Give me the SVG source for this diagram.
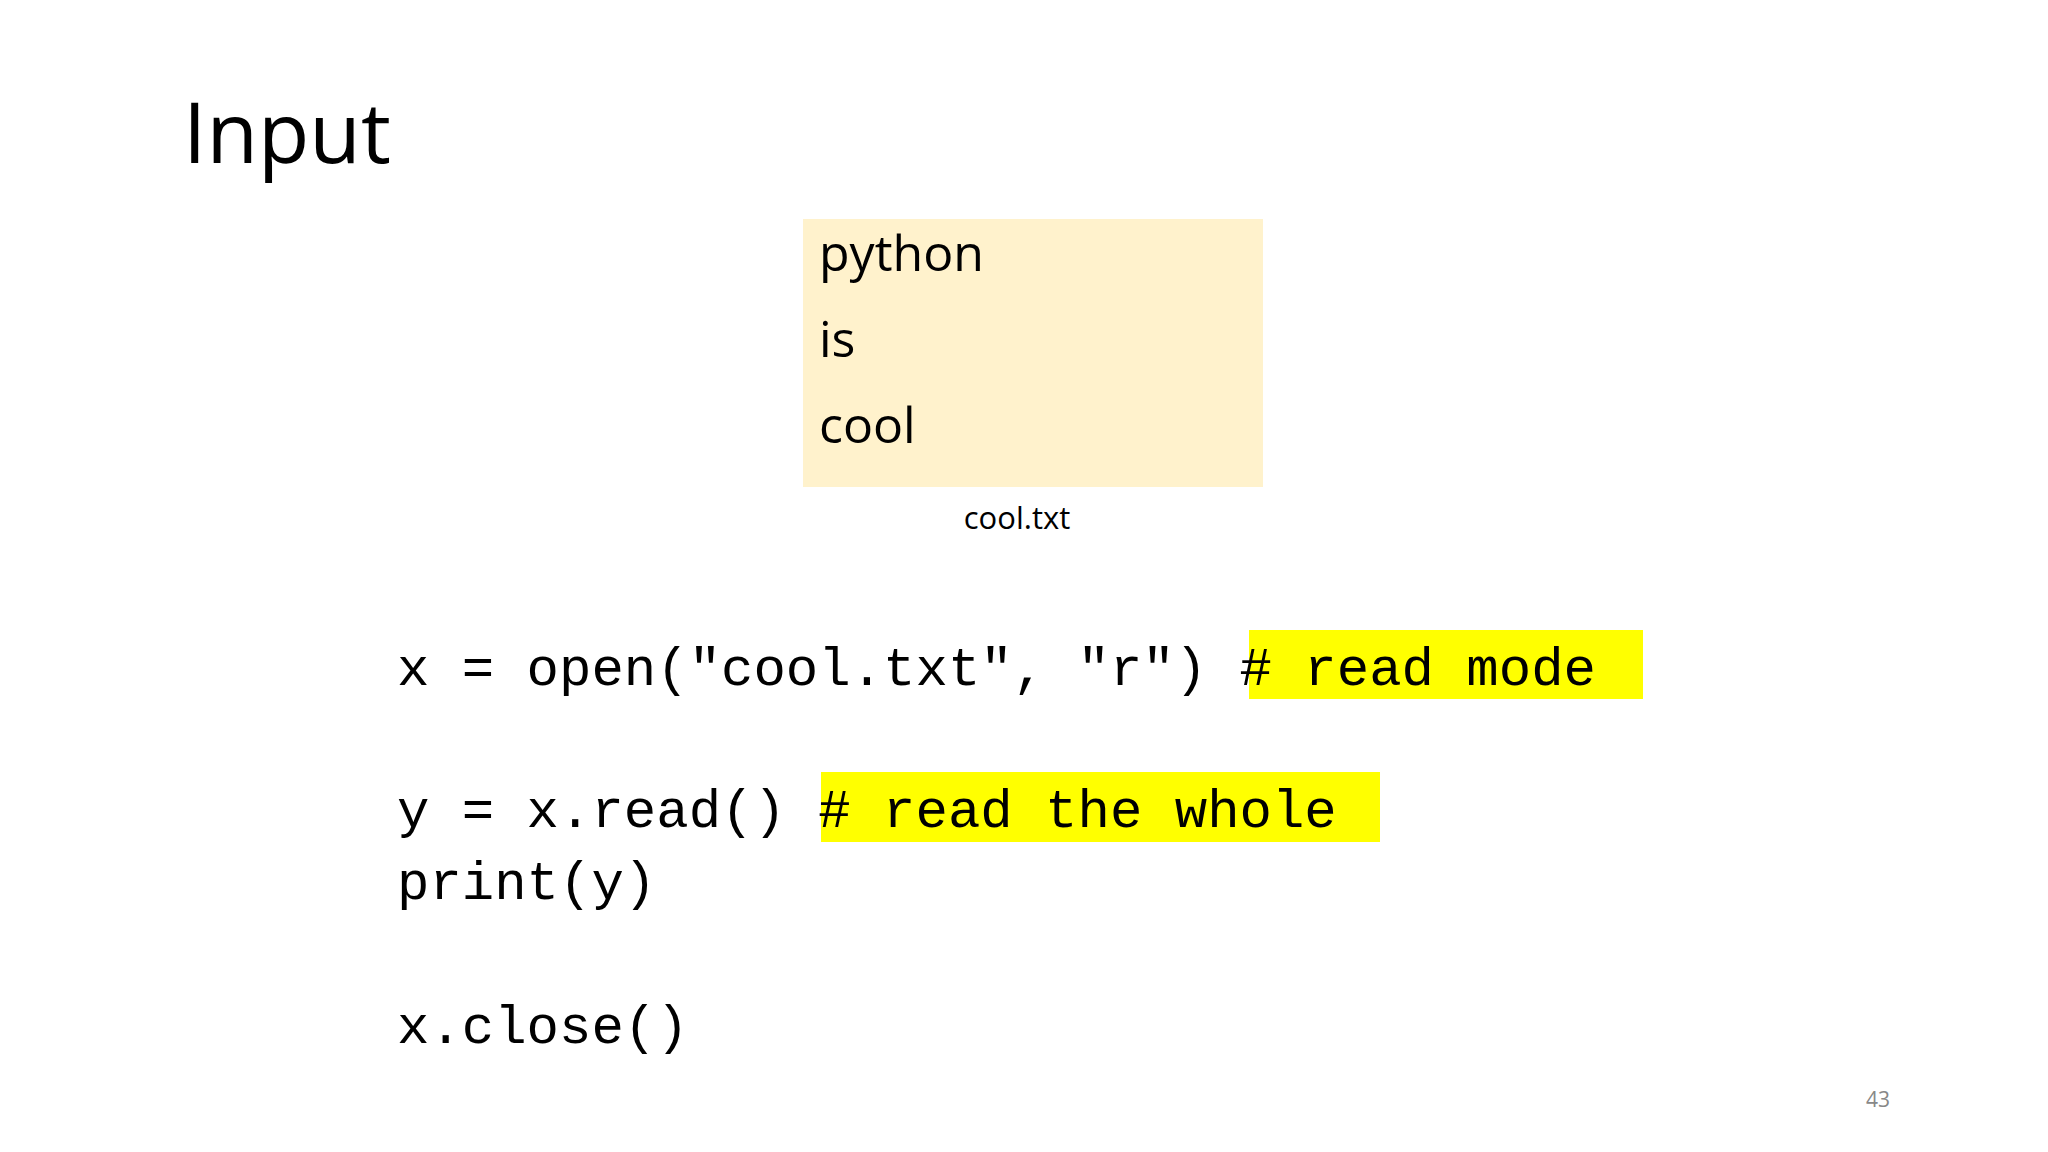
<svg xmlns="http://www.w3.org/2000/svg" width="2048" height="1152" viewBox="0 0 2048 1152">
<style>
.code{font-family:"Liberation Mono","DejaVu Sans Mono",monospace;font-size:54px;fill:#000}
.sans{font-family:"Open Sans","Liberation Sans",sans-serif;fill:#000}
.hl{fill:#FFFF00}
</style>
<rect width="2048" height="1152" fill="#fff"/>
<text id="title" class="sans" x="183" y="163" font-size="84">Input</text>
<g id="file">
<rect x="803" y="219" width="460" height="268" fill="#FFF2CC"/>
<text class="sans" x="819" y="271" font-size="50">python</text>
<text class="sans" x="819" y="357" font-size="50">is</text>
<text class="sans" x="819" y="443" font-size="50">cool</text>
<text class="sans" x="1017" y="529" font-size="31" text-anchor="middle">cool.txt</text>
</g>
<g id="code">
<rect class="hl" x="1249" y="630" width="394" height="69"/>
<rect class="hl" x="821" y="772" width="559" height="70"/>
<text class="code" x="397" y="685" xml:space="preserve">x = open("cool.txt", "r") # read mode</text>
<text class="code" x="397" y="827" xml:space="preserve">y = x.read() # read the whole</text>
<text class="code" x="397" y="899">print(y)</text>
<text class="code" x="397" y="1043">x.close()</text>
</g>
<text id="page" class="sans" x="1878" y="1107" font-size="21" fill="#888" text-anchor="middle" style="fill:#888">43</text>
</svg>
